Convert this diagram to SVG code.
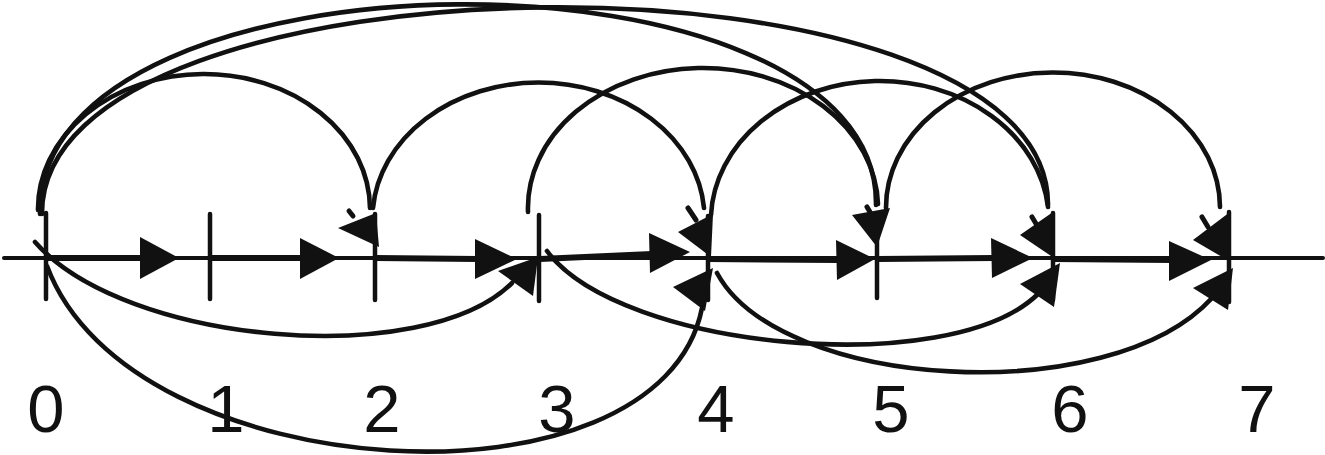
<svg xmlns="http://www.w3.org/2000/svg" width="1325" height="455" viewBox="0 0 1325 455">
<style>
.axis{stroke:#111;stroke-width:4;fill:none;stroke-linecap:round}
.tick{stroke:#111;stroke-width:4.5;fill:none;stroke-linecap:round}
.step{stroke:#111;stroke-width:6;fill:none}
.arc{stroke:#111;stroke-width:4.6;fill:none;stroke-linecap:round}
.stub{stroke:#111;stroke-width:5;fill:none;stroke-linecap:round}
.head{fill:#111;stroke:none}
.lbl{font-family:"Liberation Sans",Arial,sans-serif;font-size:67px;fill:#111;text-anchor:middle}
</style>
<rect width="1325" height="455" fill="#fff"/>
<line class="axis" x1="4" y1="258" x2="1323" y2="258"/>
<g id="n0"><line class="tick" x1="46" y1="213" x2="46" y2="299"/><text class="lbl" x="46" y="432">0</text></g>
<g id="n1"><line class="tick" x1="210" y1="214" x2="210" y2="299"/><text class="lbl" x="226" y="432">1</text></g>
<g id="n2"><line class="tick" x1="375" y1="214" x2="375" y2="300"/><text class="lbl" x="382" y="432">2</text></g>
<g id="n3"><line class="tick" x1="539" y1="215" x2="539" y2="301"/><text class="lbl" x="557" y="432">3</text></g>
<g id="n4"><line class="tick" x1="708" y1="216" x2="708" y2="300"/><text class="lbl" x="716" y="432">4</text></g>
<g id="n5"><line class="tick" x1="877" y1="215" x2="877" y2="298"/><text class="lbl" x="891" y="432">5</text></g>
<g id="n6"><line class="tick" x1="1053" y1="213" x2="1053" y2="300"/><text class="lbl" x="1070" y="432">6</text></g>
<g id="n7"><line class="tick" x1="1229" y1="212" x2="1229" y2="302"/><text class="lbl" x="1257" y="432">7</text></g>
<g id="connectors">
<path class="step" d="M46 258 L142 258"/>
<polygon class="head" points="140,237 140,279 179,258"/>
<path class="step" d="M210 258 L302 258"/>
<polygon class="head" points="300,238 300,279 339,258"/>
<path class="step" d="M375 258 L478 259"/>
<polygon class="head" points="475,239 475,279 517,259"/>
<path class="step" d="M540 259 L652 254"/>
<polygon class="head" points="649,233 650,273 690,252"/>
<path class="step" d="M708 259 L838 260"/>
<polygon class="head" points="836,240 837,280 875,259"/>
<path class="step" d="M877 259 L994 258"/>
<polygon class="head" points="991,238 992,278 1033,258"/>
<path class="step" d="M1053 259 L1172 260"/>
<polygon class="head" points="1169,241 1169,281 1211,260"/>

<path class="arc" d="M38 210 A166 135 0 0 1 370 208"/>
<path class="arc" d="M373 208 A166 136 0 0 1 704 208"/>
<path class="arc" d="M528 212 A175 140 0 0 1 878 204"/>
<path class="arc" d="M711 215 A169 140 0 0 1 1048 207"/>
<path class="arc" d="M886 208 A167 135 0 0 1 1220 207"/>
<path class="arc" d="M40 214 C35 -62 880 -66 876 205"/>
<path class="arc" d="M42 214 C40 -55 1050 -65 1048 205"/>

<line class="stub" x1="349" y1="211" x2="353" y2="216"/>
<polygon class="head" points="338,228 376,213 379,247"/>
<line class="stub" x1="688" y1="208" x2="696" y2="220"/>
<polygon class="head" points="678,232 713,214 711,257"/>
<line class="stub" x1="867" y1="207" x2="870" y2="212"/>
<polygon class="head" points="852,215 890,208 877,247"/>
<line class="stub" x1="1032" y1="217" x2="1038" y2="227"/>
<polygon class="head" points="1020,235 1053,212 1054,258"/>
<line class="stub" x1="1202" y1="217" x2="1208" y2="227"/>
<polygon class="head" points="1193,240 1230,212 1229,261"/>

<path class="arc" d="M35 242 C125 345 425 370 512 283"/>
<polygon class="head" points="498,271 533,296 538,257"/>
<path class="arc" d="M47 266 C130 490 660 520 702 308"/>
<polygon class="head" points="673,287 713,268 705,311"/>
<path class="arc" d="M547 251 C620 350 950 380 1038 294"/>
<polygon class="head" points="1020,284 1060,263 1054,307"/>
<path class="arc" d="M717 273 C780 390 1110 410 1212 298"/>
<polygon class="head" points="1193,288 1233,268 1228,310"/>
</g>
</svg>
